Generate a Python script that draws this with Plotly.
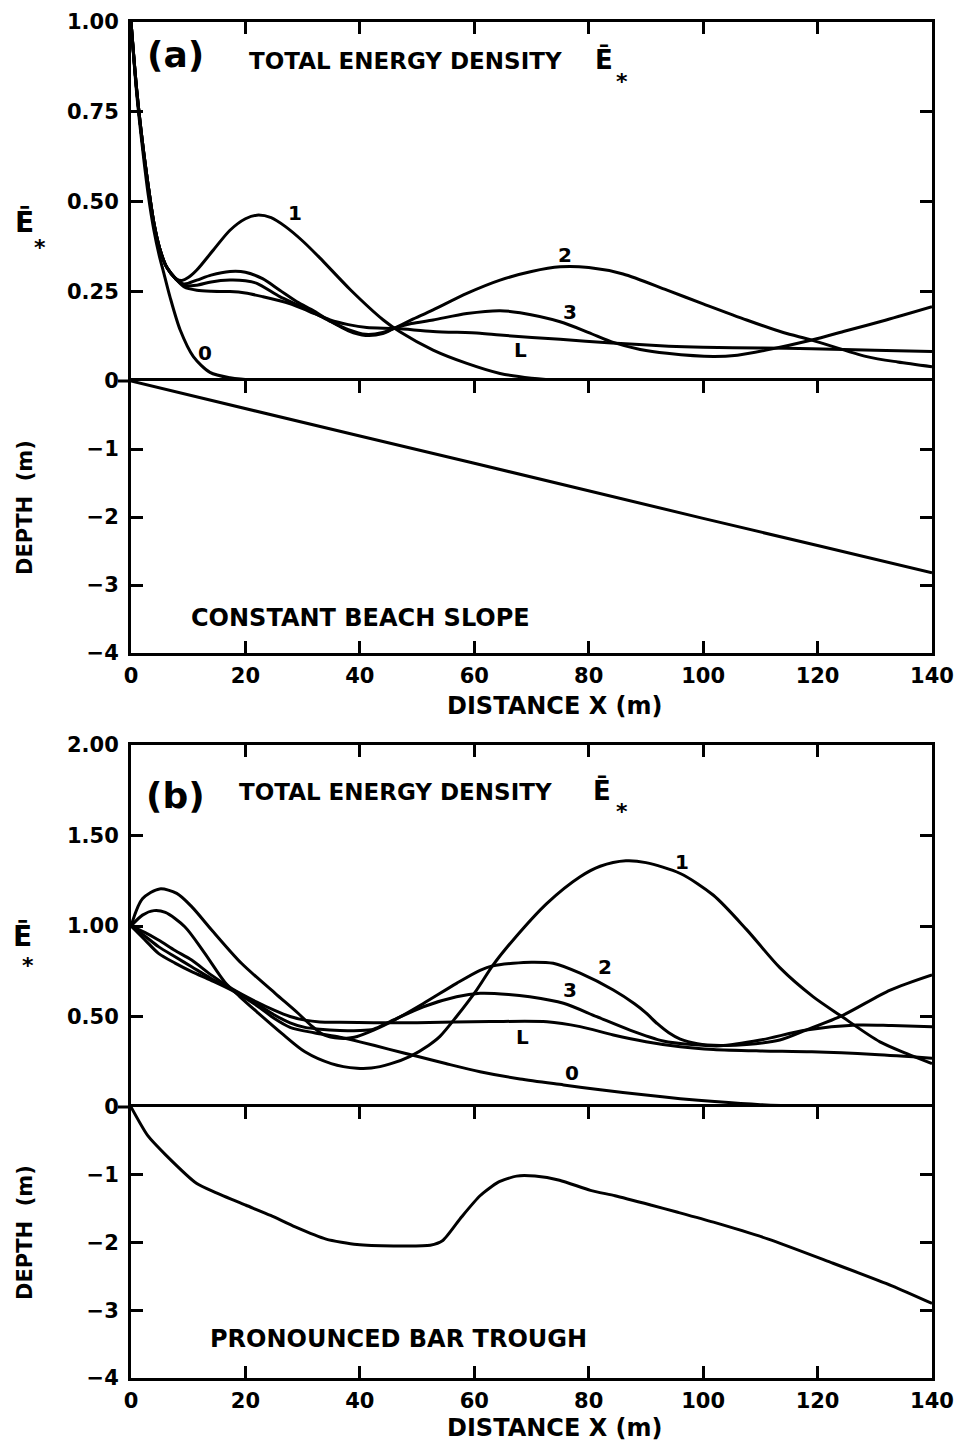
import plotly.graph_objects as go

W, H = 966, 1446

# ---------------- panel (a): constant beach slope ----------------
a_x_c0 = [0, 1, 2, 3, 4, 5, 5.6, 6.8, 8.6, 10.9, 13.8, 17.3, 22, 30, 140]
a_e_c0 = [1.0, 0.80, 0.65, 0.52, 0.42, 0.345, 0.309, 0.235, 0.142, 0.068, 0.024, 0.009, 0.002, 0.0, 0.0]

a_x_c1 = [0, 1, 2, 3, 4, 5, 6.2, 7.9, 8.9, 10, 11.5, 14.4, 17.3, 20, 22, 24.5, 27, 30, 33, 38.3,
          44.1, 47, 52.8, 58.7, 64.5, 70, 76, 82, 140]
a_e_c1 = [1.0, 0.81, 0.665, 0.545, 0.44, 0.37, 0.318, 0.285, 0.28, 0.288, 0.309, 0.365, 0.42, 0.452,
          0.462, 0.455, 0.43, 0.39, 0.343, 0.255, 0.17, 0.137, 0.086, 0.049, 0.021, 0.008, 0.002, 0.0, 0.0]

a_x_c2 = [0, 1, 2, 3, 4, 5, 6.2, 7.9, 9.3, 11.5, 14, 17.3, 20, 23, 26, 29, 32, 35, 38, 41, 44, 46, 49,
          52.8, 58.7, 64.5, 70, 75, 80, 86, 93.7, 100, 107.6, 114, 119, 128.6, 134, 140]
a_e_c2 = [1.0, 0.81, 0.665, 0.545, 0.44, 0.37, 0.318, 0.283, 0.27, 0.281, 0.295, 0.305, 0.303, 0.285,
          0.253, 0.221, 0.195, 0.165, 0.14, 0.127, 0.132, 0.147, 0.17, 0.198, 0.244, 0.281, 0.305,
          0.318, 0.316, 0.298, 0.253, 0.215, 0.17, 0.135, 0.114, 0.068, 0.053, 0.04]

a_x_c3 = [0, 1, 2, 3, 4, 5, 6.2, 7.9, 9.3, 11.5, 14, 17.3, 20, 22, 26, 29, 32, 35, 38, 41, 44, 46, 49,
          52.8, 58.7, 64.5, 68, 75, 80, 84, 89, 93.7, 101.8, 106, 111, 119, 125, 132, 140]
a_e_c3 = [1.0, 0.81, 0.665, 0.545, 0.44, 0.37, 0.318, 0.283, 0.266, 0.267, 0.276, 0.281, 0.279, 0.272,
          0.235, 0.213, 0.19, 0.165, 0.143, 0.13, 0.135, 0.147, 0.16, 0.17, 0.188, 0.196, 0.19, 0.165,
          0.135, 0.109, 0.088, 0.077, 0.068, 0.072, 0.086, 0.114, 0.14, 0.17, 0.207]

a_x_cL = [0, 1, 2, 3, 4, 5, 6.2, 7.9, 9.3, 11.5, 14, 17.3, 20, 23, 27.7, 31, 34.8, 38, 41.2, 46.4,
          52.8, 61, 64.5, 75, 84, 94, 100, 110, 119, 130, 140]
a_e_cL = [1.0, 0.81, 0.665, 0.545, 0.44, 0.37, 0.318, 0.283, 0.262, 0.253, 0.25, 0.249, 0.245, 0.235,
          0.216, 0.195, 0.17, 0.157, 0.149, 0.146, 0.138, 0.133, 0.128, 0.116, 0.106, 0.097, 0.094,
          0.092, 0.09, 0.086, 0.082]

a_x_depth = [0, 20, 40, 60, 80, 100, 120, 140]
a_depth = [0, -0.41, -0.81, -1.21, -1.62, -2.02, -2.42, -2.82]

# ---------------- panel (b): pronounced bar trough ----------------
b_x_c0 = [0, 2.4, 4.8, 7.7, 10.6, 14, 17.6, 22, 25, 27.8, 32, 36.5, 40, 45, 50, 55, 61, 68, 75.6,
          82, 90, 96, 102, 110, 118, 125, 140]
b_e_c0 = [1.0, 0.925, 0.849, 0.795, 0.748, 0.70, 0.645, 0.56, 0.49, 0.44, 0.41, 0.385, 0.36, 0.32,
          0.28, 0.24, 0.195, 0.155, 0.122, 0.095, 0.066, 0.046, 0.03, 0.013, 0.004, 0.0, 0.0]

b_x_c1 = [0, 2, 4, 6, 9.4, 12.9, 16.4, 19, 22.2, 26.3, 30.4, 35, 39.5, 42, 45.3, 48.8, 52, 54, 56.9,
          60.4, 63.3, 66.8, 72.7, 78.5, 82, 86.5, 90, 96, 101.8, 107.6, 113.4, 119.2, 124,
          130.9, 135.6, 140]
b_e_c1 = [1.0, 1.06, 1.085, 1.075, 0.996, 0.849, 0.69, 0.61, 0.52, 0.408, 0.305, 0.24, 0.214, 0.215,
          0.238, 0.28, 0.34, 0.39, 0.5, 0.646, 0.785, 0.923, 1.125, 1.272, 1.33, 1.36, 1.35, 1.29,
          1.17, 0.98, 0.77, 0.61, 0.505, 0.36, 0.295, 0.24]

b_x_c2 = [0, 2, 5, 8, 10.6, 14.1, 19.3, 25.2, 29.2, 31.5, 33.6, 36.5, 39, 42.4, 46, 51.1, 56.9, 61,
          63.3, 66.8, 70, 73.8, 78.5, 84.3, 88, 90, 92, 94, 96, 99, 103, 107.6, 113.4, 118, 124.5,
          132.7, 140]
b_e_c2 = [1.0, 1.15, 1.205, 1.18, 1.107, 0.978, 0.794, 0.628, 0.518, 0.45, 0.40, 0.38, 0.385, 0.425,
          0.48, 0.572, 0.683, 0.755, 0.78, 0.794, 0.80, 0.794, 0.739, 0.646, 0.57, 0.52, 0.46, 0.41,
          0.375, 0.35, 0.34, 0.345, 0.37, 0.425, 0.508, 0.646, 0.73]

b_x_c3 = [0, 2.4, 4.8, 7.7, 10.6, 14, 17.6, 22, 25, 27.8, 30.4, 33, 36.5, 40, 42.4, 45.3, 51.1, 56.9,
          61, 66, 69.7, 75.6, 81.4, 87.2, 93, 98, 103, 110, 118, 126.8, 133, 140]
b_e_c3 = [1.0, 0.945, 0.886, 0.83, 0.775, 0.71, 0.65, 0.57, 0.51, 0.465, 0.44, 0.43, 0.423, 0.422,
          0.43, 0.472, 0.554, 0.609, 0.628, 0.622, 0.609, 0.573, 0.499, 0.425, 0.365, 0.345, 0.338,
          0.37, 0.425, 0.453, 0.45, 0.444]

b_x_cL = [0, 2.4, 4.8, 7.7, 10.6, 14, 17.6, 22, 25, 27.8, 30.4, 33, 36.5, 42.4, 50, 62.8, 72.7, 78.5,
          84.3, 90, 96, 101.8, 110, 119, 130, 140]
b_e_cL = [1.0, 0.965, 0.923, 0.865, 0.812, 0.73, 0.655, 0.58, 0.535, 0.50, 0.48, 0.47, 0.468, 0.465,
          0.466, 0.472, 0.471, 0.444, 0.398, 0.361, 0.333, 0.318, 0.31, 0.305, 0.29, 0.27]

b_x_depth = [0, 2.9, 6.1, 11.5, 14.7, 20.1, 24.4, 28.7, 34.1, 39.5, 45.9, 52.3, 54.5, 57.8, 61, 64.2,
             67.4, 70.6, 74.9, 80.3, 84.6, 91, 95.4, 101.8, 111.4, 122.2, 133, 140]
b_depth = [0, -0.42, -0.71, -1.13, -1.26, -1.45, -1.60, -1.77, -1.95, -2.03, -2.05, -2.04, -1.97,
           -1.62, -1.31, -1.11, -1.02, -1.02, -1.08, -1.23, -1.31, -1.45, -1.55, -1.70, -1.95, -2.29,
           -2.64, -2.90]

x_ticks = [0, 20, 40, 60, 80, 100, 120, 140]
x_ticktext = ["0", "20", "40", "60", "80", "100", "120", "140"]
a_e_ticks = [0, 0.25, 0.5, 0.75, 1.0]
a_e_ticktext = ["0", "0.25", "0.50", "0.75", "1.00"]
b_e_ticks = [0, 0.5, 1.0, 1.5, 2.0]
b_e_ticktext = ["0", "0.50", "1.00", "1.50", "2.00"]
d_ticks = [-4, -3, -2, -1]
d_ticktext = ["\u22124", "\u22123", "\u22122", "\u22121"]

FONT = "DejaVu Sans"


def py(p):
    return (H - p) / H


def pxx(p):
    return p / W


fig = go.Figure()

LW = 3


def add_curve(x, y, xa, ya, smoothing=0.8):
    fig.add_trace(go.Scatter(
        x=x, y=y, xaxis=xa, yaxis=ya, mode="lines",
        line=dict(color="black", width=LW, shape="spline" if smoothing > 0 else "linear",
                  smoothing=smoothing),
        showlegend=False, hoverinfo="skip"))


for xs, ys in [(a_x_c0, a_e_c0), (a_x_c1, a_e_c1), (a_x_c2, a_e_c2), (a_x_c3, a_e_c3), (a_x_cL, a_e_cL)]:
    add_curve(xs, ys, "x2", "y2")
add_curve(a_x_depth, a_depth, "x", "y", smoothing=0)

for xs, ys in [(b_x_c0, b_e_c0), (b_x_c1, b_e_c1), (b_x_c2, b_e_c2), (b_x_c3, b_e_c3), (b_x_cL, b_e_cL)]:
    add_curve(xs, ys, "x4", "y4")
add_curve(b_x_depth, b_depth, "x3", "y3", smoothing=0.6)

XD = [pxx(131), pxx(932)]
common = dict(showline=True, linecolor="black", linewidth=3, ticks="inside", ticklen=12,
              tickwidth=3, tickcolor="black", showgrid=False, zeroline=False, automargin=False,
              tickfont=dict(family=FONT, size=21, color="black", weight="bold"))

xbottom = dict(common, domain=XD, range=[0, 140], tickmode="array", tickvals=x_ticks,
               ticktext=x_ticktext, mirror="ticks", ticklabelstandoff=2,
               tickfont=dict(family=FONT, size=21, color="black", weight="bold"))
xtop = dict(common, domain=XD, range=[0, 140], tickmode="array", tickvals=x_ticks,
            side="top", showticklabels=False)

fig.update_layout(
    width=W, height=H, autosize=False,
    margin=dict(l=0, r=0, t=0, b=0, pad=0, autoexpand=False),
    paper_bgcolor="white", plot_bgcolor="white",
    showlegend=False,
    xaxis=dict(xbottom, anchor="y"),
    yaxis=dict(common, domain=[py(653), py(381)], anchor="x", range=[-4, 0], tickmode="array",
               tickvals=d_ticks, ticktext=d_ticktext, mirror="ticks", ticklabelstandoff=5),
    xaxis2=dict(xtop, anchor="y2", matches="x"),
    yaxis2=dict(common, domain=[py(381), py(22)], anchor="x2", range=[0, 1.0], tickmode="array",
                tickvals=a_e_ticks, ticktext=a_e_ticktext, mirror="ticks", ticklabelstandoff=5),
    xaxis3=dict(xbottom, anchor="y3"),
    yaxis3=dict(common, domain=[py(1378), py(1107)], anchor="x3", range=[-4, 0], tickmode="array",
                tickvals=d_ticks, ticktext=d_ticktext, mirror="ticks", ticklabelstandoff=5),
    xaxis4=dict(xtop, anchor="y4", matches="x3"),
    yaxis4=dict(common, domain=[py(1107), py(745)], anchor="x4", range=[0, 2.0], tickmode="array",
                tickvals=b_e_ticks, ticktext=b_e_ticktext, mirror="ticks", ticklabelstandoff=5),
)

anns = []


def txt(text, x, y, size, angle=0):
    anns.append(dict(text=text, x=pxx(x), y=py(y), xref="paper", yref="paper",
                     xanchor="center", yanchor="middle", showarrow=False, textangle=angle,
                     font=dict(family=FONT, size=size, color="black", weight="bold")))


# panel (a)
txt("(a)", 175, 55, 36)
txt("TOTAL ENERGY DENSITY", 405, 61, 23)
txt("\u0112", 604, 60, 26)
txt("*", 622, 81, 22)
txt("1", 295, 213, 20)
txt("0", 205, 353, 20)
txt("2", 565, 255, 20)
txt("3", 570, 312, 20)
txt("L", 520, 350, 20)
txt("CONSTANT BEACH SLOPE", 360, 618, 24)
txt("\u0112", 24, 222, 28)
txt("*", 40, 248, 22)
txt("DEPTH  (m)", 25, 508, 21, angle=-90)
txt("DISTANCE X (m)", 554, 706, 24)

# panel (b)
txt("(b)", 175, 795, 36)
txt("TOTAL ENERGY DENSITY", 395, 792, 23)
txt("\u0112", 602, 790, 26)
txt("*", 622, 811, 22)
txt("1", 682, 862, 20)
txt("2", 605, 967, 20)
txt("3", 570, 990, 20)
txt("L", 522, 1037, 20)
txt("0", 572, 1073, 20)
txt("PRONOUNCED BAR TROUGH", 398, 1339, 24)
txt("\u0112", 22, 937, 28)
txt("*", 28, 965, 22)
txt("DEPTH  (m)", 25, 1233, 21, angle=-90)
txt("DISTANCE X (m)", 554, 1428, 24)

fig.update_layout(annotations=anns)

# short outward extension of the zero lines on the left
shapes = []
for yy in (381, 1107):
    shapes.append(dict(type="line", xref="paper", yref="paper", x0=pxx(118), x1=pxx(131),
                       y0=py(yy), y1=py(yy), line=dict(color="black", width=3)))
fig.update_layout(shapes=shapes)

fig.write_html("out.html")
